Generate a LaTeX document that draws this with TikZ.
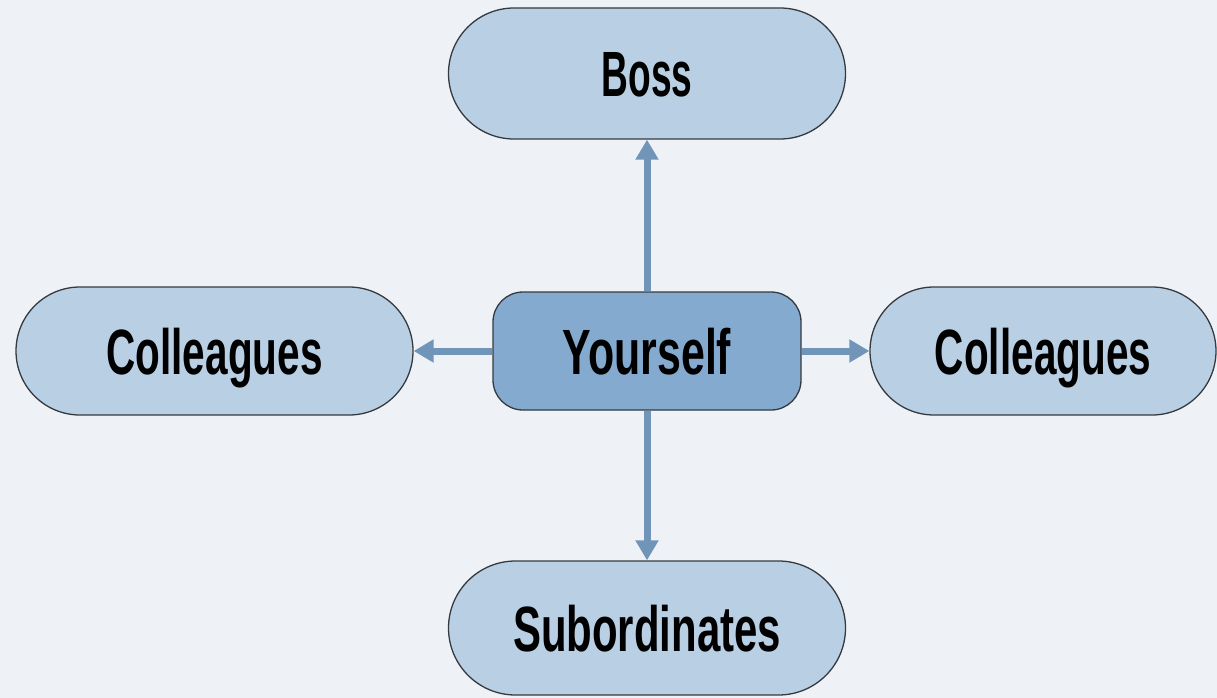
\documentclass[tikz,border=0pt]{standalone}
\usepackage{fontspec}
\setmainfont{Liberation Sans}
\usetikzlibrary{shapes.misc,arrows.meta}
\definecolor{bgc}{HTML}{EEF2F6}
\definecolor{outerfill}{HTML}{B9CFE3}
\definecolor{innerfill}{HTML}{85AAD0}
\definecolor{arrowc}{HTML}{7095B8}
\definecolor{edgec}{HTML}{353A40}
\newcommand{\lbl}[2]{\scalebox{#1}[1]{\bfseries #2}}
\tikzset{
  pill/.style={rounded rectangle, draw=edgec, line width=1.3pt, fill=outerfill,
    inner sep=0pt, text height=46pt, text depth=0pt,
    font=\fontsize{64}{64}\selectfont},
  centerbox/.style={rectangle, rounded corners=30pt, draw=edgec, line width=1.3pt, fill=innerfill,
    inner sep=0pt, text height=46pt, text depth=0pt,
    font=\fontsize{64}{64}\selectfont, minimum width=308pt, minimum height=118pt},
  link/.style={draw=arrowc, line width=7pt, -{Triangle[length=20pt,width=22pt]}}
}
\begin{document}
\begin{tikzpicture}[x=1pt,y=-1pt]
\fill[bgc] (0,0) rectangle (1217,698);
\useasboundingbox (0,0) rectangle (1217,698);
\node[pill, minimum width=397pt, minimum height=131pt] (boss) at (647,73.5) {\lbl{0.58}{Boss}};
\node[pill, minimum width=397pt, minimum height=128pt] (lcol) at (214.5,351) {\lbl{0.633}{Colleagues}};
\node[pill, minimum width=346pt, minimum height=128pt] (rcol) at (1043,351) {\lbl{0.633}{Colleagues}};
\node[pill, minimum width=397pt, minimum height=134pt] (sub) at (647,628) {\lbl{0.655}{Subordinates}};
\node[centerbox] (you) at (647,351) {\lbl{0.67}{Yourself}};
\draw[link] (you.north) -- (boss.south);
\draw[link] (you.south) -- (sub.north);
\draw[link] (you.west) -- (lcol.east);
\draw[link] (you.east) -- (rcol.west);
\end{tikzpicture}
\end{document}
